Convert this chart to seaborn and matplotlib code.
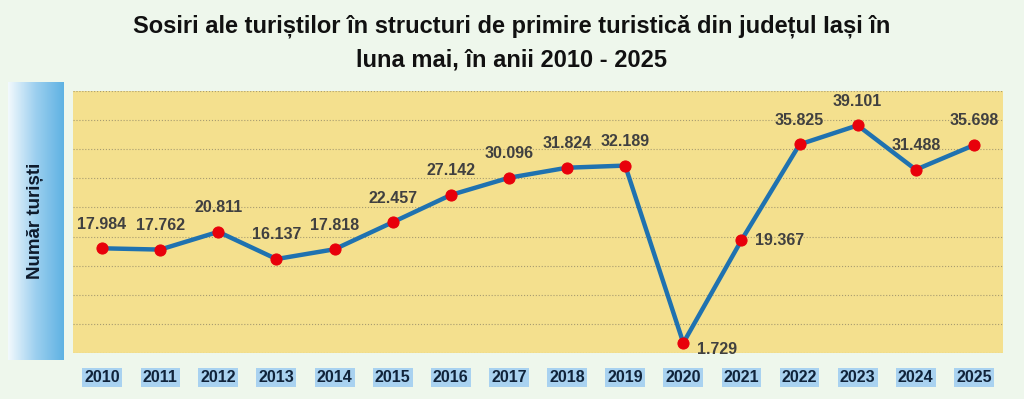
import numpy as np
import pandas as pd
import matplotlib
matplotlib.use('Agg')
import matplotlib.pyplot as plt
import seaborn as sns

years = ['2010', '2011', '2012', '2013', '2014', '2015', '2016', '2017',
         '2018', '2019', '2020', '2021', '2022', '2023', '2024', '2025']
arrivals = [17984, 17762, 20811, 16137, 17818, 22457, 27142, 30096,
            31824, 32189, 1729, 19367, 35825, 39101, 31488, 35698]
labels = ['17.984', '17.762', '20.811', '16.137', '17.818', '22.457', '27.142', '30.096',
          '31.824', '32.189', '1.729', '19.367', '35.825', '39.101', '31.488', '35.698']

df = pd.DataFrame({'an': years, 'turisti': arrivals, 'idx': range(len(years))})

sns.set_style('white')
plt.rcParams['font.family'] = ['Liberation Sans', 'DejaVu Sans']

fig = plt.figure(figsize=(10.24, 3.99), dpi=100)
fig.patch.set_facecolor('#EEF7EC')

ax = fig.add_axes([73/1024, 1 - 353/399, 930/1024, 262/399])
ax.set_facecolor('#F4E08E')

sns.lineplot(data=df, x='idx', y='turisti', ax=ax, color='#1F72B0', lw=3.2,
             marker='o', markersize=8, markerfacecolor='#E8000B',
             markeredgecolor='#E8000B', zorder=3)

ax.set_xlim(-0.5, len(years) - 0.5)
ax.set_ylim(0, 45000)
ax.set_yticks(np.arange(0, 45001, 5000))
ax.yaxis.grid(True, color='#A89C70', ls=':', lw=0.8)
ax.set_yticklabels([])
ax.tick_params(axis='y', length=0)
ax.set_xticks(df['idx'])
ax.set_xticklabels(years)
ax.tick_params(axis='x', length=0, pad=12)
for t in ax.get_xticklabels():
    t.set_fontweight('bold')
    t.set_fontsize(11.5)
    t.set_color('#10233A')
    t.set_bbox(dict(facecolor='#A9D2F0', edgecolor='none', pad=1.5))
for s in ax.spines.values():
    s.set_visible(False)
ax.set_xlabel('')
ax.set_ylabel('')

# data labels
for i, (v, lab) in enumerate(zip(arrivals, labels)):
    if lab == '19.367':
        ax.annotate(lab, (i, v), xytext=(10, 0), textcoords='offset points',
                    ha='left', va='center', fontsize=11.5, fontweight='bold', color='#404040')
    elif lab == '1.729':
        ax.annotate(lab, (i, v), xytext=(10, -5), textcoords='offset points',
                    ha='left', va='center', fontsize=11.5, fontweight='bold', color='#404040')
    else:
        ax.annotate(lab, (i, v), xytext=(0, 12), textcoords='offset points',
                    ha='center', va='bottom', fontsize=11.5, fontweight='bold', color='#404040')

# left gradient box with axis title
gax = fig.add_axes([8/1024, 1 - 360/399, 56/1024, 278/399])
grad = np.linspace(0, 1, 100).reshape(1, -1)
cmap = matplotlib.colors.LinearSegmentedColormap.from_list('g', ['#F2F9FD', '#9CCFEF', '#5FB2E3'])
gax.imshow(grad, aspect='auto', cmap=cmap, extent=[0, 1, 0, 1])
gax.set_axis_off()
gax.text(0.5, 0.5, 'Număr turiști', rotation=90, ha='center', va='center',
         fontsize=13.5, fontweight='bold', color='#0E1A2B', transform=gax.transAxes)

fig.text(0.5, 1 - 26/399, 'Sosiri ale turiștilor în structuri de primire turistică din județul Iași în',
         ha='center', va='center', fontsize=17, fontweight='bold', color='#111111',
         family=['Liberation Sans Narrow', 'Liberation Sans'])
fig.text(0.5, 1 - 60/399, 'luna mai, în anii 2010 - 2025',
         ha='center', va='center', fontsize=17, fontweight='bold', color='#111111',
         family=['Liberation Sans Narrow', 'Liberation Sans'])

fig.savefig('out.png', dpi=100, facecolor=fig.get_facecolor())
